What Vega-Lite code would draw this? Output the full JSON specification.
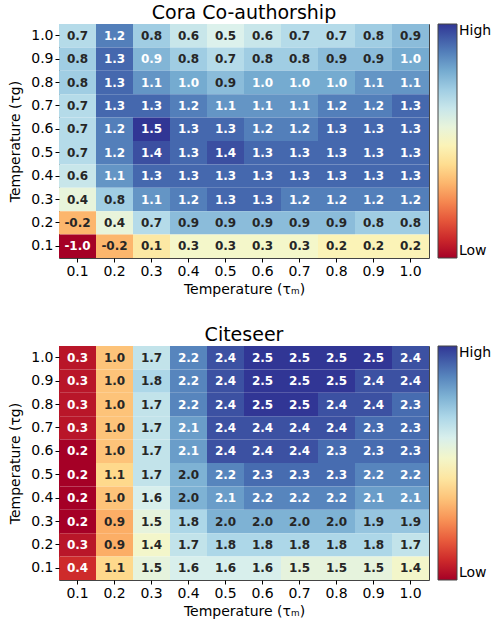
{
 "$schema": "https://vega.github.io/schema/vega-lite/v6.json",
 "background": "white",
 "padding": {"left": 8, "top": 3, "right": 0, "bottom": 0},
 "config": {
  "font": "DejaVu Sans",
  "locale": {"number": {"decimal": ".", "thousands": ",", "grouping": [3], "currency": ["$", ""], "minus": "-"}},
  "view": {"stroke": "#444", "strokeWidth": 1},
  "axis": {"labelFont": "DejaVu Sans", "labelFontSize": 14, "labelColor": "black", "titleFont": "DejaVu Sans", "titleFontSize": 14, "titleFontWeight": "normal", "titleColor": "black", "domain": false, "ticks": true, "tickColor": "black", "tickSize": 4, "labelPadding": 2, "grid": false, "titlePadding": 4},
  "axisY": {"titlePadding": 8},
  "title": {"font": "DejaVu Sans", "fontSize": 19, "fontWeight": "normal", "color": "black", "offset": 1},
  "legend": {"orient": "right", "gradientLength": 234, "gradientThickness": 19, "labelFontSize": 14, "labelColor": "black", "labelFont": "DejaVu Sans", "gradientStrokeColor": "#444", "gradientStrokeWidth": 1, "offset": 9, "padding": 0, "labelOffset": 5, "labelBaseline": "middle"}
 },
 "datasets": {
  "cora": [
   {"g":"1.0","m":"0.1","v":0.7},{"g":"1.0","m":"0.2","v":1.2},{"g":"1.0","m":"0.3","v":0.8},{"g":"1.0","m":"0.4","v":0.6},{"g":"1.0","m":"0.5","v":0.5},{"g":"1.0","m":"0.6","v":0.6},{"g":"1.0","m":"0.7","v":0.7},{"g":"1.0","m":"0.8","v":0.7},{"g":"1.0","m":"0.9","v":0.8},{"g":"1.0","m":"1.0","v":0.9},
   {"g":"0.9","m":"0.1","v":0.8},{"g":"0.9","m":"0.2","v":1.3},{"g":"0.9","m":"0.3","v":0.94},{"g":"0.9","m":"0.4","v":0.8},{"g":"0.9","m":"0.5","v":0.7},{"g":"0.9","m":"0.6","v":0.8},{"g":"0.9","m":"0.7","v":0.8},{"g":"0.9","m":"0.8","v":0.9},{"g":"0.9","m":"0.9","v":0.9},{"g":"0.9","m":"1.0","v":1.0},
   {"g":"0.8","m":"0.1","v":0.8},{"g":"0.8","m":"0.2","v":1.3},{"g":"0.8","m":"0.3","v":1.1},{"g":"0.8","m":"0.4","v":1.0},{"g":"0.8","m":"0.5","v":0.9},{"g":"0.8","m":"0.6","v":1.0},{"g":"0.8","m":"0.7","v":1.0},{"g":"0.8","m":"0.8","v":1.0},{"g":"0.8","m":"0.9","v":1.1},{"g":"0.8","m":"1.0","v":1.1},
   {"g":"0.7","m":"0.1","v":0.7},{"g":"0.7","m":"0.2","v":1.3},{"g":"0.7","m":"0.3","v":1.3},{"g":"0.7","m":"0.4","v":1.2},{"g":"0.7","m":"0.5","v":1.1},{"g":"0.7","m":"0.6","v":1.1},{"g":"0.7","m":"0.7","v":1.1},{"g":"0.7","m":"0.8","v":1.2},{"g":"0.7","m":"0.9","v":1.2},{"g":"0.7","m":"1.0","v":1.3},
   {"g":"0.6","m":"0.1","v":0.7},{"g":"0.6","m":"0.2","v":1.2},{"g":"0.6","m":"0.3","v":1.5},{"g":"0.6","m":"0.4","v":1.3},{"g":"0.6","m":"0.5","v":1.3},{"g":"0.6","m":"0.6","v":1.2},{"g":"0.6","m":"0.7","v":1.2},{"g":"0.6","m":"0.8","v":1.3},{"g":"0.6","m":"0.9","v":1.3},{"g":"0.6","m":"1.0","v":1.3},
   {"g":"0.5","m":"0.1","v":0.7},{"g":"0.5","m":"0.2","v":1.2},{"g":"0.5","m":"0.3","v":1.4},{"g":"0.5","m":"0.4","v":1.3},{"g":"0.5","m":"0.5","v":1.4},{"g":"0.5","m":"0.6","v":1.3},{"g":"0.5","m":"0.7","v":1.3},{"g":"0.5","m":"0.8","v":1.3},{"g":"0.5","m":"0.9","v":1.3},{"g":"0.5","m":"1.0","v":1.3},
   {"g":"0.4","m":"0.1","v":0.6},{"g":"0.4","m":"0.2","v":1.1},{"g":"0.4","m":"0.3","v":1.3},{"g":"0.4","m":"0.4","v":1.3},{"g":"0.4","m":"0.5","v":1.3},{"g":"0.4","m":"0.6","v":1.3},{"g":"0.4","m":"0.7","v":1.3},{"g":"0.4","m":"0.8","v":1.3},{"g":"0.4","m":"0.9","v":1.3},{"g":"0.4","m":"1.0","v":1.3},
   {"g":"0.3","m":"0.1","v":0.4},{"g":"0.3","m":"0.2","v":0.8},{"g":"0.3","m":"0.3","v":1.1},{"g":"0.3","m":"0.4","v":1.2},{"g":"0.3","m":"0.5","v":1.3},{"g":"0.3","m":"0.6","v":1.3},{"g":"0.3","m":"0.7","v":1.2},{"g":"0.3","m":"0.8","v":1.2},{"g":"0.3","m":"0.9","v":1.2},{"g":"0.3","m":"1.0","v":1.2},
   {"g":"0.2","m":"0.1","v":-0.2},{"g":"0.2","m":"0.2","v":0.4},{"g":"0.2","m":"0.3","v":0.7},{"g":"0.2","m":"0.4","v":0.9},{"g":"0.2","m":"0.5","v":0.9},{"g":"0.2","m":"0.6","v":0.9},{"g":"0.2","m":"0.7","v":0.9},{"g":"0.2","m":"0.8","v":0.9},{"g":"0.2","m":"0.9","v":0.8},{"g":"0.2","m":"1.0","v":0.8},
   {"g":"0.1","m":"0.1","v":-1.0},{"g":"0.1","m":"0.2","v":-0.2},{"g":"0.1","m":"0.3","v":0.1},{"g":"0.1","m":"0.4","v":0.3},{"g":"0.1","m":"0.5","v":0.3},{"g":"0.1","m":"0.6","v":0.3},{"g":"0.1","m":"0.7","v":0.3},{"g":"0.1","m":"0.8","v":0.2},{"g":"0.1","m":"0.9","v":0.2},{"g":"0.1","m":"1.0","v":0.2}
  ],
  "citeseer": [
   {"g":"1.0","m":"0.1","v":0.3},{"g":"1.0","m":"0.2","v":1.0},{"g":"1.0","m":"0.3","v":1.7},{"g":"1.0","m":"0.4","v":2.2},{"g":"1.0","m":"0.5","v":2.4},{"g":"1.0","m":"0.6","v":2.5},{"g":"1.0","m":"0.7","v":2.5},{"g":"1.0","m":"0.8","v":2.5},{"g":"1.0","m":"0.9","v":2.5},{"g":"1.0","m":"1.0","v":2.4},
   {"g":"0.9","m":"0.1","v":0.3},{"g":"0.9","m":"0.2","v":1.0},{"g":"0.9","m":"0.3","v":1.8},{"g":"0.9","m":"0.4","v":2.2},{"g":"0.9","m":"0.5","v":2.4},{"g":"0.9","m":"0.6","v":2.5},{"g":"0.9","m":"0.7","v":2.5},{"g":"0.9","m":"0.8","v":2.5},{"g":"0.9","m":"0.9","v":2.4},{"g":"0.9","m":"1.0","v":2.4},
   {"g":"0.8","m":"0.1","v":0.3},{"g":"0.8","m":"0.2","v":1.0},{"g":"0.8","m":"0.3","v":1.7},{"g":"0.8","m":"0.4","v":2.2},{"g":"0.8","m":"0.5","v":2.4},{"g":"0.8","m":"0.6","v":2.5},{"g":"0.8","m":"0.7","v":2.5},{"g":"0.8","m":"0.8","v":2.4},{"g":"0.8","m":"0.9","v":2.4},{"g":"0.8","m":"1.0","v":2.3},
   {"g":"0.7","m":"0.1","v":0.3},{"g":"0.7","m":"0.2","v":1.0},{"g":"0.7","m":"0.3","v":1.7},{"g":"0.7","m":"0.4","v":2.1},{"g":"0.7","m":"0.5","v":2.4},{"g":"0.7","m":"0.6","v":2.4},{"g":"0.7","m":"0.7","v":2.4},{"g":"0.7","m":"0.8","v":2.4},{"g":"0.7","m":"0.9","v":2.3},{"g":"0.7","m":"1.0","v":2.3},
   {"g":"0.6","m":"0.1","v":0.2},{"g":"0.6","m":"0.2","v":1.0},{"g":"0.6","m":"0.3","v":1.7},{"g":"0.6","m":"0.4","v":2.1},{"g":"0.6","m":"0.5","v":2.4},{"g":"0.6","m":"0.6","v":2.4},{"g":"0.6","m":"0.7","v":2.4},{"g":"0.6","m":"0.8","v":2.3},{"g":"0.6","m":"0.9","v":2.3},{"g":"0.6","m":"1.0","v":2.3},
   {"g":"0.5","m":"0.1","v":0.2},{"g":"0.5","m":"0.2","v":1.1},{"g":"0.5","m":"0.3","v":1.7},{"g":"0.5","m":"0.4","v":2.0},{"g":"0.5","m":"0.5","v":2.2},{"g":"0.5","m":"0.6","v":2.3},{"g":"0.5","m":"0.7","v":2.3},{"g":"0.5","m":"0.8","v":2.3},{"g":"0.5","m":"0.9","v":2.2},{"g":"0.5","m":"1.0","v":2.2},
   {"g":"0.4","m":"0.1","v":0.2},{"g":"0.4","m":"0.2","v":1.0},{"g":"0.4","m":"0.3","v":1.6},{"g":"0.4","m":"0.4","v":2.0},{"g":"0.4","m":"0.5","v":2.1},{"g":"0.4","m":"0.6","v":2.2},{"g":"0.4","m":"0.7","v":2.2},{"g":"0.4","m":"0.8","v":2.2},{"g":"0.4","m":"0.9","v":2.1},{"g":"0.4","m":"1.0","v":2.1},
   {"g":"0.3","m":"0.1","v":0.2},{"g":"0.3","m":"0.2","v":0.9},{"g":"0.3","m":"0.3","v":1.5},{"g":"0.3","m":"0.4","v":1.8},{"g":"0.3","m":"0.5","v":2.0},{"g":"0.3","m":"0.6","v":2.0},{"g":"0.3","m":"0.7","v":2.0},{"g":"0.3","m":"0.8","v":2.0},{"g":"0.3","m":"0.9","v":1.9},{"g":"0.3","m":"1.0","v":1.9},
   {"g":"0.2","m":"0.1","v":0.3},{"g":"0.2","m":"0.2","v":0.9},{"g":"0.2","m":"0.3","v":1.4},{"g":"0.2","m":"0.4","v":1.7},{"g":"0.2","m":"0.5","v":1.8},{"g":"0.2","m":"0.6","v":1.8},{"g":"0.2","m":"0.7","v":1.8},{"g":"0.2","m":"0.8","v":1.8},{"g":"0.2","m":"0.9","v":1.8},{"g":"0.2","m":"1.0","v":1.7},
   {"g":"0.1","m":"0.1","v":0.4},{"g":"0.1","m":"0.2","v":1.1},{"g":"0.1","m":"0.3","v":1.5},{"g":"0.1","m":"0.4","v":1.6},{"g":"0.1","m":"0.5","v":1.6},{"g":"0.1","m":"0.6","v":1.6},{"g":"0.1","m":"0.7","v":1.5},{"g":"0.1","m":"0.8","v":1.5},{"g":"0.1","m":"0.9","v":1.5},{"g":"0.1","m":"1.0","v":1.4}
  ]
 },
 "spacing": 28,
 "resolve": {"scale": {"color": "independent"}, "legend": {"color": "independent"}},
 "vconcat": [
  {
   "data": {"name": "cora"},
   "title": "Cora Co-authorship",
   "width": 370, "height": 234,
   "encoding": {
    "x": {"field": "m", "type": "ordinal", "scale": {"paddingInner": 0, "paddingOuter": 0}, "axis": {"labelAngle": 0, "title": "Temperature (τₘ)"}},
    "y": {"field": "g", "type": "ordinal", "sort": "descending", "scale": {"paddingInner": 0, "paddingOuter": 0}, "axis": {"title": "Temperature (τg)"}}
   },
   "layer": [
    {"mark": "rect", "encoding": {"color": {"field": "v", "type": "quantitative", "scale": {"scheme": "redyellowblue", "zero": false, "nice": false}, "legend": {"title": null, "values": [-1, 1.5], "labelExpr": "datum.value > 0.25 ? 'High' : 'Low'"}}}},
    {"mark": {"type": "text", "fontWeight": "bold", "fontSize": 12}, "encoding": {"text": {"field": "v", "type": "quantitative", "format": ".1f"}, "color": {"condition": {"test": "datum.v > 0.92 || datum.v < -0.5", "value": "white"}, "value": "#262626"}}}
   ]
  },
  {
   "data": {"name": "citeseer"},
   "title": "Citeseer",
   "width": 370, "height": 234,
   "encoding": {
    "x": {"field": "m", "type": "ordinal", "scale": {"paddingInner": 0, "paddingOuter": 0}, "axis": {"labelAngle": 0, "title": "Temperature (τₘ)"}},
    "y": {"field": "g", "type": "ordinal", "sort": "descending", "scale": {"paddingInner": 0, "paddingOuter": 0}, "axis": {"title": "Temperature (τg)"}}
   },
   "layer": [
    {"mark": "rect", "encoding": {"color": {"field": "v", "type": "quantitative", "scale": {"scheme": "redyellowblue", "zero": false, "nice": false}, "legend": {"title": null, "values": [0.2, 2.5], "labelExpr": "datum.value > 1.3 ? 'High' : 'Low'"}}}},
    {"mark": {"type": "text", "fontWeight": "bold", "fontSize": 12}, "encoding": {"text": {"field": "v", "type": "quantitative", "format": ".1f"}, "color": {"condition": {"test": "datum.v > 2.05 || datum.v < 0.6", "value": "white"}, "value": "#262626"}}}
   ]
  }
 ]
}
